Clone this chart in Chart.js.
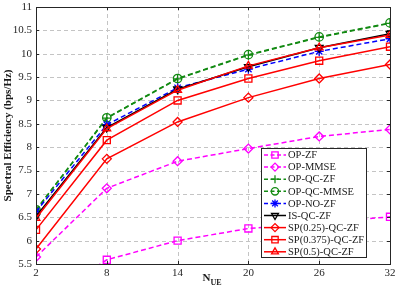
<!DOCTYPE html>
<html><head><meta charset="utf-8">
<script src="https://cdn.jsdelivr.net/npm/chart.js@4.4.1/dist/chart.umd.min.js"></script>
<style>html,body{margin:0;padding:0;background:#fff;}#wrap{width:409px;height:287px;}</style>
</head><body><div id="wrap"><canvas id="c" width="409" height="287"></canvas></div>
<script>
const nue = [2, 8, 14, 20, 26, 32];
const xTicks = [2, 8, 14, 20, 26, 32];
const yTicks = [5.5, 6, 6.5, 7, 7.5, 8, 8.5, 9, 9.5, 10, 10.5, 11];
const opZF     = [4.6, 5.59, 6.0, 6.26, 6.38, 6.51];
const opMMSE   = [5.65, 7.12, 7.70, 7.97, 8.23, 8.38];
const opQCZF   = [6.65, 8.62, 9.46, 9.97, 10.35, 10.65];
const opQCMMSE = [6.66, 8.63, 9.47, 9.98, 10.36, 10.66];
const opNOZF   = [6.62, 8.48, 9.27, 9.67, 10.05, 10.32];
const isQCZF   = [6.52, 8.42, 9.24, 9.72, 10.13, 10.43];
const sp025    = [5.82, 7.75, 8.54, 9.06, 9.47, 9.77];
const sp0375   = [6.23, 8.15, 9.00, 9.47, 9.85, 10.15];
const sp05     = [6.48, 8.40, 9.22, 9.74, 10.13, 10.40];
const seriesNames = ['OP-ZF','OP-MMSE','OP-QC-ZF','OP-QC-MMSE','OP-NO-ZF','IS-QC-ZF','SP(0.25)-QC-ZF','SP(0.375)-QC-ZF','SP(0.5)-QC-ZF'];

const MAG = '#ff00ff', GRN = '#138a13', BLU = '#0000ff', BLK = '#000000', RED = '#ff0000';
const FONT = '"Liberation Serif", "Times New Roman", serif';
const styles = [
  {c: MAG, dash: [5,3], ps: 'rect', r: 5, rot: 0},
  {c: MAG, dash: [5,3], ps: 'rectRot', r: 4.5, rot: 0},
  {c: GRN, dash: [5,3], ps: 'cross', r: 4.5, rot: 0},
  {c: GRN, dash: [5,3], ps: 'circle', r: 4.2, rot: 0},
  {c: BLU, dash: [5,3], ps: 'star', r: 4.5, rot: 0},
  {c: BLK, dash: [], ps: 'triangle', r: 4.5, rot: 180},
  {c: RED, dash: [], ps: 'rectRot', r: 4.5, rot: 0},
  {c: RED, dash: [], ps: 'rect', r: 5, rot: 0},
  {c: RED, dash: [], ps: 'triangle', r: 4.5, rot: 0},
];
const allData = [opZF, opMMSE, opQCZF, opQCMMSE, opNOZF, isQCZF, sp025, sp0375, sp05];

const datasets = allData.map((d, i) => ({
  label: seriesNames[i],
  data: d.map((v, j) => ({x: nue[j], y: v})),
  borderColor: styles[i].c,
  backgroundColor: 'rgba(0,0,0,0)',
  borderWidth: 1.5,
  borderDash: styles[i].dash,
  pointStyle: styles[i].ps,
  pointRadius: styles[i].r,
  pointRotation: styles[i].rot,
  pointBorderColor: styles[i].c,
  pointBackgroundColor: 'rgba(0,0,0,0)',
  pointBorderWidth: 1.3,
  tension: 0,
  order: allData.length - i
}));

const gridPlugin = {
  id: 'dashgrid',
  beforeDatasetsDraw(chart) {
    const {ctx, chartArea: a, scales} = chart;
    ctx.save();
    ctx.strokeStyle = '#c4c4c4';
    ctx.lineWidth = 1;
    ctx.setLineDash([4, 3]);
    ctx.beginPath();
    xTicks.forEach(t => {
      const x = Math.round(scales.x.getPixelForValue(t)) + 0.5;
      ctx.moveTo(x, a.top); ctx.lineTo(x, a.bottom);
    });
    yTicks.forEach(t => {
      const y = Math.round(scales.y.getPixelForValue(t)) + 0.5;
      ctx.moveTo(a.left, y); ctx.lineTo(a.right, y);
    });
    ctx.stroke();
    ctx.restore();
  }
};

const framePlugin = {
  id: 'frame',
  afterDatasetsDraw(chart) {
    const {ctx, chartArea: a, scales} = chart;
    ctx.save();
    ctx.strokeStyle = '#262626';
    ctx.lineWidth = 1;
    ctx.setLineDash([]);
    ctx.strokeRect(Math.round(a.left) + 0.5, Math.round(a.top) + 0.5, Math.round(a.right - a.left), Math.round(a.bottom - a.top));
    ctx.beginPath();
    xTicks.forEach(t => {
      const x = Math.round(scales.x.getPixelForValue(t)) + 0.5;
      ctx.moveTo(x, a.bottom); ctx.lineTo(x, a.bottom - 3);
      ctx.moveTo(x, a.top); ctx.lineTo(x, a.top + 3);
    });
    yTicks.forEach(t => {
      const y = Math.round(scales.y.getPixelForValue(t)) + 0.5;
      ctx.moveTo(a.left, y); ctx.lineTo(a.left + 3, y);
      ctx.moveTo(a.right, y); ctx.lineTo(a.right - 3, y);
    });
    ctx.stroke();

    // legend
    const lx = 261, ly = 148, lw = 105, lh = 109;
    ctx.fillStyle = '#fff';
    ctx.fillRect(lx, ly, lw, lh);
    ctx.strokeStyle = '#262626';
    ctx.strokeRect(lx + 0.5, ly + 0.5, lw, lh);
    ctx.font = '10.5px ' + FONT;
    ctx.textBaseline = 'middle';
    ctx.textAlign = 'left';
    seriesNames.forEach((name, i) => {
      const s = styles[i];
      const cy = ly + 7 + i * 12.1;
      ctx.strokeStyle = s.c;
      ctx.lineWidth = 1.5;
      ctx.setLineDash(s.dash.length ? [4, 2.5] : []);
      ctx.beginPath(); ctx.moveTo(lx + 3, cy); ctx.lineTo(lx + 25, cy); ctx.stroke();
      ctx.setLineDash([]);
      ctx.lineWidth = 1.3;
      ctx.fillStyle = 'rgba(0,0,0,0)';
      Chart.helpers.drawPoint(ctx, {pointStyle: s.ps, radius: s.r - 0.5, rotation: s.rot, borderWidth: 1.3}, lx + 14, cy);
      ctx.fillStyle = '#1a1a1a';
      ctx.fillText(name, lx + 27, cy + 0.5);
    });

    // axis titles
    ctx.fillStyle = '#1a1a1a';
    ctx.font = 'bold 11px ' + FONT;
    ctx.textAlign = 'left';
    ctx.textBaseline = 'alphabetic';
    const cx = (a.left + a.right) / 2;
    const nW = ctx.measureText('N').width;
    ctx.font = 'bold 8px ' + FONT;
    const uW = ctx.measureText('UE').width;
    const sx = cx - (nW + uW) / 2 - 1;
    ctx.font = 'bold 11px ' + FONT;
    ctx.fillText('N', sx, 281);
    ctx.font = 'bold 8px ' + FONT;
    ctx.fillText('UE', sx + nW, 285);

    ctx.translate(11, (a.top + a.bottom) / 2);
    ctx.rotate(-Math.PI / 2);
    ctx.textAlign = 'center';
    ctx.font = 'bold 11px ' + FONT;
    ctx.fillText('Spectral Efficiency (bps/Hz)', 0, 0);
    ctx.restore();
  }
};

const hiddenGrid = {display: true, drawOnChartArea: false, drawTicks: false, color: 'rgba(0,0,0,0)', tickLength: 0};

new Chart(document.getElementById('c'), {
  type: 'line',
  data: {datasets},
  options: {
    responsive: false,
    animation: false,
    devicePixelRatio: 1,
    layout: {padding: {top: 7, right: 19, left: 0, bottom: 0}},
    plugins: {legend: {display: false}, tooltip: {enabled: false}},
    scales: {
      x: {
        type: 'linear', min: 2, max: 32,
        afterBuildTicks: s => { s.ticks = xTicks.map(v => ({value: v})); },
        afterFit: s => { s.height = 23; s.paddingLeft = 0; s.paddingRight = 0; },
        ticks: {font: {family: FONT, size: 11}, color: '#262626', padding: 3, maxRotation: 0, callback: v => String(v)},
        grid: hiddenGrid,
        border: {display: false}
      },
      y: {
        type: 'linear', min: 5.5, max: 11,
        afterBuildTicks: s => { s.ticks = yTicks.map(v => ({value: v})); },
        afterFit: s => { s.width = 36; s.paddingTop = 0; s.paddingBottom = 0; },
        ticks: {font: {family: FONT, size: 11}, color: '#262626', padding: 4, callback: v => String(v)},
        grid: hiddenGrid,
        border: {display: false}
      }
    }
  },
  plugins: [gridPlugin, framePlugin]
});
</script>
</body></html>
